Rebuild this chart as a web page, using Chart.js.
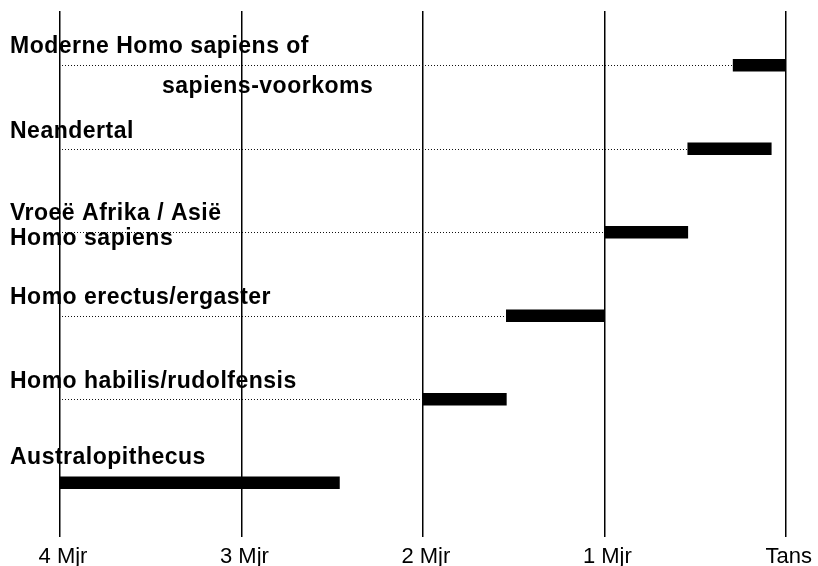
<!DOCTYPE html>
<html>
<head>
<meta charset="utf-8">
<script src="https://cdn.jsdelivr.net/npm/chart.js@4"></script>
<style>
  html, body { margin: 0; padding: 0; background: #fff; }
  #wrap { width: 818px; height: 566px; }
</style>
</head>
<body>
<div id="wrap"><canvas id="hominidChart"></canvas></div>
<script>
// Data (millions of years ago)
const species = [
  ["Moderne Homo sapiens of", "sapiens-voorkoms"],
  ["Neandertal"],
  ["Vroeë Afrika / Asië", "Homo sapiens"],
  ["Homo erectus/ergaster"],
  ["Homo habilis/rudolfensis"],
  ["Australopithecus"]
];
const startMjr = [0.29, 0.54, 1.0, 1.54, 2.0, 4.0];
const endMjr = [0.0, 0.08, 0.54, 1.0, 1.54, 2.46];
const tickLabels = ["Tans", "1 Mjr", "2 Mjr", "3 Mjr", "4 Mjr"];

const FONT = "'Liberation Sans', Arial, Helvetica, sans-serif";

// text offsets (x, dy from bar centre) for each label line
const labelPos = [
  [[10, -12], [162, 28]],
  [[10, -11]],
  [[10, -12], [10, 13]],
  [[10, -12]],
  [[10, -11]],
  [[10, -19]]
];

// dotted guide lines + species names
const guidePlugin = {
  id: "guides",
  beforeDatasetsDraw(chart) {
    const { ctx, scales: { x, y } } = chart;
    ctx.save();
    ctx.strokeStyle = "#111";
    ctx.lineWidth = 1;
    ctx.setLineDash([1, 2]);
    startMjr.forEach((s, i) => {
      const py = Math.round(y.getPixelForValue(i)) + 0.5;
      ctx.beginPath();
      ctx.moveTo(x.getPixelForValue(4) + 2, py);
      ctx.lineTo(x.getPixelForValue(s), py);
      ctx.stroke();
    });
    ctx.restore();
  },
  afterDatasetsDraw(chart) {
    const { ctx, scales: { y } } = chart;
    ctx.save();
    ctx.fillStyle = "#000";
    ctx.font = "bold 23px " + FONT;
    ctx.letterSpacing = "0.5px";
    ctx.textBaseline = "alphabetic";
    ctx.textAlign = "left";
    species.forEach((lines, i) => {
      const py = y.getPixelForValue(i);
      lines.forEach((txt, j) => {
        const [lx, dy] = labelPos[i][j];
        ctx.fillText(txt, lx, py + dy);
      });
    });
    ctx.restore();
  }
};

const bars = startMjr.map((s, i) => ({ x: [s, endMjr[i]], y: i }));

new Chart(document.getElementById("hominidChart"), {
  type: "bar",
  data: {
    datasets: [{
      data: bars,
      backgroundColor: "#000",
      borderWidth: 0,
      barThickness: 12
    }]
  },
  options: {
    indexAxis: "y",
    responsive: true,
    maintainAspectRatio: false,
    animation: false,
    layout: { padding: { left: 60, right: 28, top: 11, bottom: -11 } },
    plugins: {
      legend: { display: false },
      tooltip: { enabled: false }
    },
    scales: {
      x: {
        type: "linear",
        min: 0,
        max: 4,
        reverse: true,
        border: { display: false },
        grid: { color: "#000", lineWidth: 1.5, drawTicks: false },
        ticks: {
          stepSize: 1,
          padding: 9,
          labelOffset: 3,
          color: "#000",
          font: { family: FONT, size: 22, lineHeight: 1 },
          callback: v => tickLabels[v]
        }
      },
      y: {
        type: "linear",
        min: -0.65,
        max: 5.65,
        reverse: true,
        offset: false,
        display: false
      }
    }
  },
  plugins: [guidePlugin]
});
</script>
</body>
</html>
